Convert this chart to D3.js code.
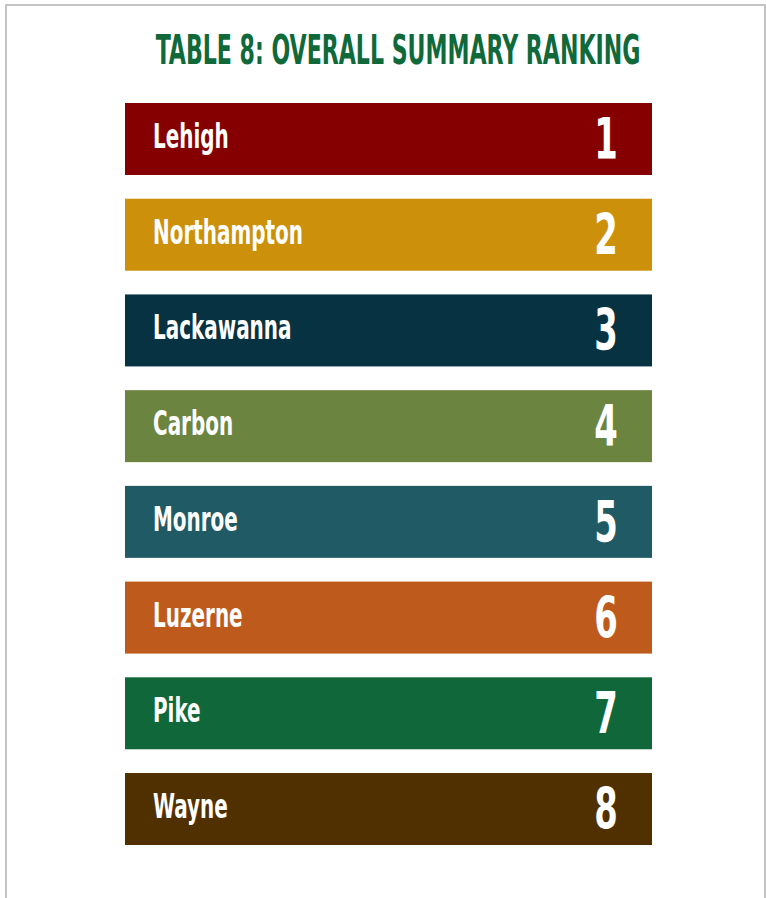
<!DOCTYPE html>
<html><head><meta charset="utf-8">
<script src="https://cdn.jsdelivr.net/npm/d3@7"></script>
<style>
html,body{margin:0;padding:0;background:#fff;}
svg{display:block;}
</style></head>
<body>
<svg id="chart" width="766" height="898"></svg>
<script>
const title = "TABLE 8: OVERALL SUMMARY RANKING";
const counties = ["Lehigh","Northampton","Lackawanna","Carbon","Monroe","Luzerne","Pike","Wayne"];
const ranks = [1,2,3,4,5,6,7,8];
const colors = ["#850000","#CC900A","#073241","#6B8540","#205A64","#BE5B1C","#0F673A","#513000"];

const svg = d3.select("#chart");
const FONT = "'DejaVu Sans Condensed','DejaVu Sans',sans-serif";

// frame
svg.append("path")
  .attr("d","M6,898 V5 H765 V898")
  .attr("fill","none").attr("stroke","#c4c4c4").attr("stroke-width",2);

// title, condensed horizontally to the reference width
const tt = svg.append("text")
  .attr("text-anchor","middle")
  .attr("font-family",FONT).attr("font-weight","bold")
  .attr("font-size",40)
  .attr("fill","#10693A")
  .text(title);
const tw = tt.node().getComputedTextLength();
tt.attr("transform",`translate(398,64) scale(${485/tw},1)`);

const y = d3.scaleBand().domain(counties).range([103,845]).paddingInner(0.248).paddingOuter(0);
const x = d3.scaleLinear().domain([0,1]).range([125,652]);

const data = counties.map((c,i)=>({county:c, rank:ranks[i], color:colors[i]}));

const g = svg.selectAll("g.row").data(data).join("g").attr("class","row");
g.append("rect")
  .attr("x",x(0)).attr("width",x(1)-x(0))
  .attr("y",d=>y(d.county)).attr("height",y.bandwidth())
  .attr("fill",d=>d.color);

const labels = g.append("text")
  .attr("font-family",FONT).attr("font-weight","bold")
  .attr("font-size",33).attr("fill","#fff")
  .text(d=>d.county);
// common horizontal squeeze derived from the widest label
const nw = labels.filter(d=>d.county==="Northampton").node().getComputedTextLength();
const sx = 150/nw;
labels.attr("transform",d=>`translate(153,${y(d.county)+45}) scale(${sx},1)`);

g.append("text")
  .attr("text-anchor","middle")
  .attr("font-family",FONT).attr("font-weight","bold")
  .attr("font-size",57).attr("fill","#fff")
  .attr("transform",d=>`translate(606,${y(d.county)+56}) scale(0.66,1)`)
  .text(d=>d.rank);
</script>
</body></html>
